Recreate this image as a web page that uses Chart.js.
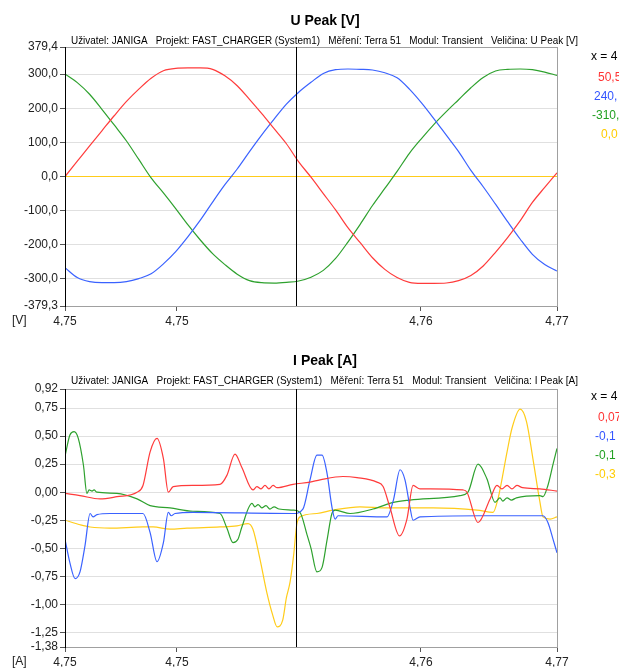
<!DOCTYPE html>
<html>
<head>
<meta charset="utf-8">
<script src="https://cdn.jsdelivr.net/npm/chart.js@4"></script>
<style>
  html, body { margin: 0; padding: 0; background: #fff; }
  #wrap { position: relative; width: 619px; height: 668px; overflow: hidden; }
  .box { position: absolute; left: 0; width: 619px; }
</style>
</head>
<body>
<div id="wrap">
  <div class="box" style="top:0;height:340px"><canvas id="uChart"></canvas></div>
  <div class="box" style="top:340px;height:328px"><canvas id="iChart"></canvas></div>
</div>
<script>
// cas zacatku okna [s], casy vzorku v ms od zacatku
const t0 = 4.750;
const cursorTime = 4.75939;

// U Peak [V] - vzorky po 0,5 ms
const uMs = [0, 0.5, 1, 1.5, 2, 2.5, 3, 3.5, 4, 4.5, 5, 5.5, 6, 6.5, 7, 7.5, 8, 8.5, 9, 9.5,
             10, 10.5, 11, 11.5, 12, 12.5, 13, 13.5, 14, 14.5, 15, 15.5, 16, 16.5, 17, 17.5, 18, 18.5, 19, 19.5, 20];
const uRed = [0, 45, 90, 134, 178, 220, 256, 288, 310, 317, 318, 318, 314, 295, 266, 226, 184, 140, 96, 43,
              -2, -50, -98, -150, -194, -238, -272, -296, -310, -313, -313, -312, -305, -290, -262, -222, -178, -130, -76, -32, 11];
const uBlue = [-267, -296, -308, -311, -311, -308, -299, -285, -256, -220, -176, -128, -75, -24, 22, 73, 122, 168, 212, 247,
               276, 302, 313, 315, 314, 312, 304, 289, 256, 215, 169, 121, 73, 18, -30, -81, -133, -183, -228, -258, -277];
const uGreen = [300, 275, 241, 197, 151, 104, 50, -4, -48, -94, -142, -186, -226, -258, -286, -305, -311, -312, -310, -306,
                -295, -275, -240, -192, -140, -85, -35, 15, 68, 112, 153, 190, 225, 260, 290, 309, 314, 315, 313, 306, 296];
const uYellow = [0, 0, 0, 0, 0, 0, 0, 0, 0, 0, 0, 0, 0, 0, 0, 0, 0, 0, 0, 0,
                 0, 0, 0, 0, 0, 0, 0, 0, 0, 0, 0, 0, 0, 0, 0, 0, 0, 0, 0, 0, 0];

// I Peak [A] - [ms, A]
const iRed = [[0, -0.01], [0.61, -0.03], [1.42, -0.06], [2.11, -0.04], [2.93, 0.0], [3.17, 0.06], [3.46, 0.36], [3.74, 0.48],
  [4.0, 0.30], [4.2, 0.0], [4.4, 0.05], [5.2, 0.06], [6.3, 0.07], [6.58, 0.15], [6.91, 0.34], [7.19, 0.22], [7.64, 0.02],
  [7.8, 0.05], [7.97, 0.03], [8.13, 0.06], [8.29, 0.03], [8.46, 0.06], [8.62, 0.04], [9.27, 0.07], [9.96, 0.09], [10.37, 0.11],
  [11.3, 0.14], [11.87, 0.13], [12.68, 0.09], [12.93, 0.05], [13.2, -0.13], [13.6, -0.39], [13.9, -0.24], [14.15, 0.06],
  [14.43, 0.03], [14.84, 0.03], [16.18, 0.02], [16.34, 0.0], [16.79, -0.27], [17.28, -0.06], [17.56, 0.06], [17.76, 0.03],
  [17.97, 0.06], [18.17, 0.03], [18.37, 0.06], [18.6, 0.04], [19.3, 0.03], [20, 0.01]];
const iBlue = [[0, -0.42], [0.2, -0.63], [0.41, -0.77], [0.61, -0.71], [0.81, -0.48], [1.02, -0.19], [1.14, -0.22], [1.3, -0.2],
  [1.83, -0.19], [3.17, -0.19], [3.46, -0.36], [3.74, -0.62], [4.0, -0.45], [4.2, -0.18], [4.32, -0.21], [4.47, -0.19],
  [5.2, -0.18], [9.27, -0.19], [9.67, -0.15], [9.96, 0.11], [10.24, 0.33], [10.45, 0.33], [10.65, 0.17], [10.85, -0.13],
  [10.98, -0.24], [11.1, -0.21], [13.09, -0.22], [13.35, -0.07], [13.62, 0.20], [13.82, 0.11], [14.02, -0.13], [14.15, -0.25],
  [14.43, -0.22], [16.87, -0.21], [19.43, -0.21], [19.63, -0.27], [19.84, -0.42], [20, -0.54]];
const iGreen = [[0, 0.32], [0.2, 0.51], [0.37, 0.54], [0.54, 0.48], [0.75, 0.24], [0.89, -0.01], [0.98, 0.02], [1.1, 0.01],
  [1.18, 0.02], [1.3, 0.0], [2.11, -0.01], [2.93, -0.06], [3.46, -0.12], [4.27, -0.14], [5.2, -0.17], [6.3, -0.19],
  [6.58, -0.32], [6.83, -0.45], [7.03, -0.42], [7.19, -0.31], [7.6, -0.10], [7.72, -0.13], [7.85, -0.11], [8.0, -0.14],
  [8.17, -0.12], [8.33, -0.15], [8.5, -0.13], [8.7, -0.15], [9.27, -0.16], [9.55, -0.18], [9.84, -0.38], [10.0, -0.50],
  [10.24, -0.71], [10.45, -0.67], [10.65, -0.43], [10.85, -0.19], [10.98, -0.16], [11.59, -0.19], [12.52, -0.15],
  [13.35, -0.09], [14.02, -0.07], [16.06, -0.03], [16.38, 0.0], [16.79, 0.25], [17.15, 0.12], [17.48, -0.09], [17.68, -0.05],
  [17.8, -0.08], [17.97, -0.05], [18.15, -0.07], [18.35, -0.05], [19.3, -0.03], [19.43, -0.04], [19.63, 0.06], [19.84, 0.25], [20, 0.39]];
const iYellow = [[0, -0.25], [0.61, -0.29], [1.02, -0.31], [1.83, -0.32], [3.17, -0.31], [3.58, -0.31], [4.27, -0.33], [4.96, -0.32],
  [6.3, -0.31], [6.99, -0.30], [7.44, -0.28], [7.64, -0.33], [7.93, -0.60], [8.2, -0.89], [8.45, -1.10], [8.62, -1.20],
  [8.85, -1.14], [9.0, -0.94], [9.15, -0.80], [9.3, -0.55], [9.42, -0.29], [9.55, -0.22], [10.24, -0.19], [10.89, -0.16],
  [11.99, -0.13], [13.09, -0.14], [14.96, -0.14], [16.75, -0.16], [17.4, -0.18], [17.6, -0.06], [17.97, 0.36], [18.17, 0.57],
  [18.5, 0.74], [18.76, 0.63], [19.02, 0.30], [19.3, -0.08], [19.43, -0.22], [19.72, -0.24], [20, -0.22]];

// popisky os
const xTicks = [4.750, 4.75455, 4.76447, 4.770];
const uTicks = [379.4, 300, 200, 100, 0, -100, -200, -300, -379.3];
const iTicks = [0.92, 0.75, 0.5, 0.25, 0, -0.25, -0.5, -0.75, -1.0, -1.25, -1.38];

const colors = ['#ff3b3b', '#3a62ff', '#2ea12e', '#ffcc1a'];
const textColors = ['#ff3333', '#3355ff', '#22a022', '#ffcc00'];
const uReadout = ['50,5', '240,', '-310,', '0,0'];
const iReadout = ['0,07', '-0,1', '-0,1', '-0,3'];
const subtitleBase = 'Uživatel: JANIGA   Projekt: FAST_CHARGER (System1)   Měření: Terra 51   Modul: Transient   Veličina: ';

const FONT = '"Liberation Sans", Arial, sans-serif';

function decor(cfg) {
    return {
        id: 'decor',
        afterDraw(chart) {
            const ctx = chart.ctx, a = chart.chartArea;
            ctx.save();
            ctx.lineWidth = 1;
            // ramecek grafu
            ctx.strokeStyle = '#a0a0a0';
            ctx.strokeRect(a.left + 0.5, a.top + 0.5, a.right - a.left, a.bottom - a.top);
            ctx.strokeStyle = '#000';
            ctx.beginPath();
            ctx.moveTo(a.left + 0.5, a.top);
            ctx.lineTo(a.left + 0.5, a.bottom + 1);
            ctx.stroke();
            // kurzor
            const cx = Math.round(chart.scales.x.getPixelForValue(cursorTime)) + 0.5;
            ctx.beginPath();
            ctx.moveTo(cx, a.top);
            ctx.lineTo(cx, a.bottom);
            ctx.stroke();
            // texty
            ctx.fillStyle = '#000';
            ctx.font = 'bold 14px ' + FONT;
            ctx.textAlign = 'center';
            ctx.textBaseline = 'middle';
            ctx.fillText(cfg.title, 325, 21);
            ctx.font = '11px ' + FONT;
            ctx.textAlign = 'left';
            ctx.fillText(cfg.subtitle, 71, 41, 507);
            ctx.font = '12px ' + FONT;
            ctx.fillStyle = '#222';
            ctx.fillText(cfg.unit, 12, a.bottom + 15);
            ctx.fillStyle = '#000';
            ctx.fillText('x = 4', 591, 57);
            const ry = [78, 97, 116, 135];
            cfg.readout.forEach((t, i) => {
                ctx.fillStyle = textColors[i];
                ctx.fillText(t, cfg.rx[i], ry[i]);
            });
            ctx.restore();
        }
    };
}

function makeChart(id, datasets, yMin, yMax, yTicks, dec, pad, cfg) {
    const ctx = document.getElementById(id).getContext('2d');
    return new Chart(ctx, {
        type: 'line',
        data: { datasets: datasets },
        options: {
            responsive: true,
            maintainAspectRatio: false,
            animation: false,
            layout: { padding: pad },
            plugins: { legend: { display: false }, title: { display: false }, tooltip: { enabled: false } },
            elements: { point: { radius: 0 } },
            scales: {
                x: {
                    type: 'linear',
                    min: 4.750,
                    max: 4.770,
                    afterBuildTicks: s => { s.ticks = xTicks.map(v => ({ value: v })); },
                    afterFit: s => { s.height = 20; },
                    border: { display: false },
                    grid: { drawOnChartArea: false, tickLength: 5, tickColor: '#555' },
                    ticks: {
                        autoSkip: false, maxRotation: 0, padding: 3, color: '#222',
                        font: { family: FONT, size: 12 },
                        callback: v => v.toFixed(2).replace('.', ',')
                    }
                },
                y: {
                    min: yMin,
                    max: yMax,
                    afterBuildTicks: s => { s.ticks = yTicks.map(v => ({ value: v })); },
                    afterFit: s => { s.width = 65; },
                    border: { display: false },
                    grid: { color: '#e0e0e0', tickLength: 5, tickColor: '#555' },
                    ticks: {
                        autoSkip: false, padding: 2, color: '#222',
                        font: { family: FONT, size: 12 },
                        callback: v => v.toFixed(dec).replace('.', ',')
                    }
                }
            }
        },
        plugins: [decor(cfg)]
    });
}

function lineSet(points, color) {
    return {
        data: points,
        borderColor: color,
        borderWidth: 1.2,
        fill: false,
        cubicInterpolationMode: 'monotone'
    };
}

const uSeries = [uRed, uBlue, uGreen, uYellow];
const uSets = uSeries.map((s, k) => lineSet(uMs.map((ms, i) => ({ x: t0 + ms / 1000, y: s[i] })), colors[k]));
const iSeries = [iRed, iBlue, iGreen, iYellow];
const iSets = iSeries.map((s, k) => lineSet(s.map(p => ({ x: t0 + p[0] / 1000, y: p[1] })), colors[k]));

makeChart('uChart', uSets, -379.3, 379.4, uTicks, 1, { top: 47, right: 62, bottom: 14, left: 0 },
    { title: 'U Peak [V]', subtitle: subtitleBase + 'U Peak [V]', unit: '[V]', readout: uReadout, rx: [598, 594, 592, 601] });
makeChart('iChart', iSets, -1.38, 0.92, iTicks, 2, { top: 49, right: 62, bottom: 1, left: 0 },
    { title: 'I Peak [A]', subtitle: subtitleBase + 'I Peak [A]', unit: '[A]', readout: iReadout, rx: [598, 595, 595, 595] });
</script>
</body>
</html>
